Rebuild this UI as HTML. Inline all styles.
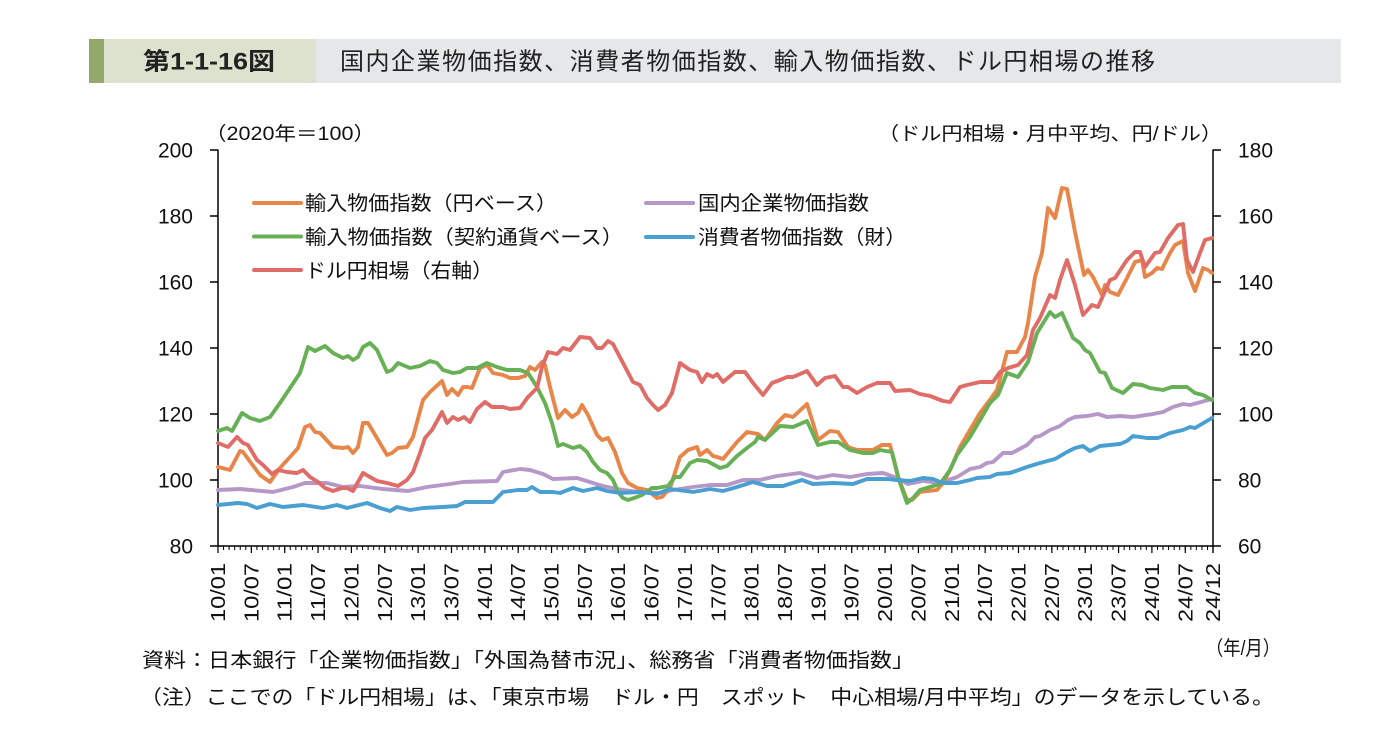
<!DOCTYPE html>
<html><head><meta charset="utf-8"><style>
html,body{margin:0;padding:0;background:#fff;}
svg{display:block;}
.jp{font-family:"Liberation Sans","Noto Sans CJK JP",sans-serif;}
.num{font-family:"Liberation Sans",sans-serif;font-size:21px;fill:#111;}
.xl{font-family:"Liberation Sans",sans-serif;font-size:20px;fill:#111;}
.s{fill:none;stroke-width:3.9;stroke-linejoin:round;stroke-linecap:round;}
</style></head><body>
<svg width="1390" height="748" viewBox="0 0 1390 748" xmlns="http://www.w3.org/2000/svg">
<rect x="0" y="0" width="1390" height="748" fill="#fff"/>
<!-- title bar -->
<rect x="89" y="39" width="15" height="44" fill="#93a86b"/>
<rect x="104" y="39" width="212" height="44" fill="#dce2cd"/>
<rect x="316" y="39" width="1025" height="44" fill="#e6e7e9"/>
<text class="jp" x="143" y="69.5" font-size="24" font-weight="bold" fill="#222" textLength="132" lengthAdjust="spacingAndGlyphs">第1-1-16図</text>
<text class="jp" x="340" y="69.5" font-size="24" fill="#222" textLength="815" lengthAdjust="spacing">国内企業物価指数、消費者物価指数、輸入物価指数、ドル円相場の推移</text>

<!-- axis headers -->
<text class="jp" x="205" y="140" font-size="19" fill="#111" textLength="170" lengthAdjust="spacingAndGlyphs">（2020年＝100）</text>
<text class="jp" x="878" y="140" font-size="19" fill="#111" textLength="344" lengthAdjust="spacingAndGlyphs">（ドル円相場・月中平均、円/ドル）</text>

<!-- left labels -->
<g class="num" text-anchor="end">
<text x="193" y="157.5">200</text>
<text x="193" y="223.5">180</text>
<text x="193" y="289.5">160</text>
<text x="193" y="355.5">140</text>
<text x="193" y="421.5">120</text>
<text x="193" y="487.5">100</text>
<text x="193" y="553.5">80</text>
</g>
<g class="num">
<text x="1238" y="157.5">180</text>
<text x="1238" y="223.5">160</text>
<text x="1238" y="289.5">140</text>
<text x="1238" y="355.5">120</text>
<text x="1238" y="421.5">100</text>
<text x="1238" y="487.5">80</text>
<text x="1238" y="553.5">60</text>
</g>

<!-- axes -->
<g stroke="#000" stroke-width="1.5">
<line x1="218" y1="149.5" x2="218" y2="546.5"/>
<line x1="1213" y1="149.5" x2="1213" y2="546.5"/>
<line x1="210" y1="546" x2="1221" y2="546"/>
<line x1="210" y1="150" x2="218" y2="150"/>
<line x1="210" y1="216" x2="218" y2="216"/>
<line x1="210" y1="282" x2="218" y2="282"/>
<line x1="210" y1="348" x2="218" y2="348"/>
<line x1="210" y1="414" x2="218" y2="414"/>
<line x1="210" y1="480" x2="218" y2="480"/>
<line x1="1213" y1="150" x2="1221" y2="150"/>
<line x1="1213" y1="216" x2="1221" y2="216"/>
<line x1="1213" y1="282" x2="1221" y2="282"/>
<line x1="1213" y1="348" x2="1221" y2="348"/>
<line x1="1213" y1="414" x2="1221" y2="414"/>
<line x1="1213" y1="480" x2="1221" y2="480"/>
</g>
<line x1="217.5" y1="548" x2="1214" y2="548" stroke="#000" stroke-width="4" stroke-dasharray="1 4.559"/>
<line x1="217.4" y1="549.5" x2="1214" y2="549.5" stroke="#000" stroke-width="7" stroke-dasharray="1.2 32.154"/>
<line x1="1213" y1="546" x2="1213" y2="553" stroke="#000" stroke-width="1.4"/>

<!-- x labels -->
<g class="xl" text-anchor="end">
<text transform="translate(225,563) rotate(-90)" textLength="59" lengthAdjust="spacingAndGlyphs">10/01</text>
<text transform="translate(258.4,563) rotate(-90)" textLength="59" lengthAdjust="spacingAndGlyphs">10/07</text>
<text transform="translate(291.7,563) rotate(-90)" textLength="59" lengthAdjust="spacingAndGlyphs">11/01</text>
<text transform="translate(325.1,563) rotate(-90)" textLength="59" lengthAdjust="spacingAndGlyphs">11/07</text>
<text transform="translate(358.4,563) rotate(-90)" textLength="59" lengthAdjust="spacingAndGlyphs">12/01</text>
<text transform="translate(391.8,563) rotate(-90)" textLength="59" lengthAdjust="spacingAndGlyphs">12/07</text>
<text transform="translate(425.1,563) rotate(-90)" textLength="59" lengthAdjust="spacingAndGlyphs">13/01</text>
<text transform="translate(458.5,563) rotate(-90)" textLength="59" lengthAdjust="spacingAndGlyphs">13/07</text>
<text transform="translate(491.8,563) rotate(-90)" textLength="59" lengthAdjust="spacingAndGlyphs">14/01</text>
<text transform="translate(525.2,563) rotate(-90)" textLength="59" lengthAdjust="spacingAndGlyphs">14/07</text>
<text transform="translate(558.5,563) rotate(-90)" textLength="59" lengthAdjust="spacingAndGlyphs">15/01</text>
<text transform="translate(591.9,563) rotate(-90)" textLength="59" lengthAdjust="spacingAndGlyphs">15/07</text>
<text transform="translate(625.2,563) rotate(-90)" textLength="59" lengthAdjust="spacingAndGlyphs">16/01</text>
<text transform="translate(658.6,563) rotate(-90)" textLength="59" lengthAdjust="spacingAndGlyphs">16/07</text>
<text transform="translate(692,563) rotate(-90)" textLength="59" lengthAdjust="spacingAndGlyphs">17/01</text>
<text transform="translate(725.3,563) rotate(-90)" textLength="59" lengthAdjust="spacingAndGlyphs">17/07</text>
<text transform="translate(758.7,563) rotate(-90)" textLength="59" lengthAdjust="spacingAndGlyphs">18/01</text>
<text transform="translate(792,563) rotate(-90)" textLength="59" lengthAdjust="spacingAndGlyphs">18/07</text>
<text transform="translate(825.4,563) rotate(-90)" textLength="59" lengthAdjust="spacingAndGlyphs">19/01</text>
<text transform="translate(858.7,563) rotate(-90)" textLength="59" lengthAdjust="spacingAndGlyphs">19/07</text>
<text transform="translate(892.1,563) rotate(-90)" textLength="59" lengthAdjust="spacingAndGlyphs">20/01</text>
<text transform="translate(925.4,563) rotate(-90)" textLength="59" lengthAdjust="spacingAndGlyphs">20/07</text>
<text transform="translate(958.8,563) rotate(-90)" textLength="59" lengthAdjust="spacingAndGlyphs">21/01</text>
<text transform="translate(992.1,563) rotate(-90)" textLength="59" lengthAdjust="spacingAndGlyphs">21/07</text>
<text transform="translate(1025.5,563) rotate(-90)" textLength="59" lengthAdjust="spacingAndGlyphs">22/01</text>
<text transform="translate(1058.9,563) rotate(-90)" textLength="59" lengthAdjust="spacingAndGlyphs">22/07</text>
<text transform="translate(1092.2,563) rotate(-90)" textLength="59" lengthAdjust="spacingAndGlyphs">23/01</text>
<text transform="translate(1125.6,563) rotate(-90)" textLength="59" lengthAdjust="spacingAndGlyphs">23/07</text>
<text transform="translate(1158.9,563) rotate(-90)" textLength="59" lengthAdjust="spacingAndGlyphs">24/01</text>
<text transform="translate(1192.3,563) rotate(-90)" textLength="59" lengthAdjust="spacingAndGlyphs">24/07</text>
<text transform="translate(1220,563) rotate(-90)" textLength="59" lengthAdjust="spacingAndGlyphs">24/12</text>
</g>

<!-- series -->
<polyline class="s" stroke="#b598c8" points="218,490 240,489 273,492 293,487 305,483 327,483 343,487 360,486 383,489 408,491 427,487 450,484 463,482 497,481 503,472 520,469 530,470 543,474 553,479 577,478 593,483 603,486 617,489 637,492 660,493 673,490 693,487 710,485 727,485 743,480 760,480 777,476 800,473 817,478 833,475 850,477 867,474 883,473 897,478 908,484 923,481 940,483 957,477 962,474 970,469 980,467 987,463 993,462 1003,453 1012,453 1027,445 1035,437 1040,436 1050,430 1060,426 1068,420 1075,417 1087,416 1098,414 1107,417 1120,416 1133,417 1153,414 1163,412 1173,407 1183,404 1190,405 1212,399"/>
<polyline class="s" stroke="#e8864a" points="218,467 230,470 240,451 243,452 260,475 270,482 280,468 290,457 298,448 305,427 310,425 315,432 320,433 333,447 343,448 348,447 353,453 358,447 363,423 368,423 387,455 392,453 398,448 407,447 413,437 423,400 430,392 442,381 447,395 452,389 458,395 463,387 467,387 472,388 480,368 487,365 493,373 503,375 510,378 518,378 525,376 530,367 535,370 542,362 545,365 550,387 558,418 565,410 572,417 578,413 582,405 588,415 597,435 602,440 608,438 615,452 622,473 628,483 637,488 647,490 657,498 662,497 670,488 680,457 688,450 697,447 700,455 707,450 713,456 717,457 723,459 737,442 747,432 758,434 765,440 777,423 785,415 793,417 807,404 813,423 818,440 830,431 838,432 848,447 857,450 873,450 882,445 890,445 898,477 907,500 912,500 920,492 937,490 943,483 950,470 960,447 970,430 980,413 992,397 997,390 1007,352 1017,352 1025,337 1028,323 1035,277 1042,253 1048,208 1055,218 1062,188 1067,189 1075,232 1084,275 1088,270 1093,277 1102,295 1105,285 1110,292 1118,295 1127,278 1135,262 1142,260 1145,277 1152,273 1157,268 1162,269 1170,253 1175,245 1183,241 1188,273 1195,291 1203,268 1208,270 1212,273"/>
<polyline class="s" stroke="#68b055" points="218,431 227,428 232,431 242,413 250,418 260,421 270,417 280,403 290,388 300,373 308,347 315,351 325,346 333,353 343,358 348,356 353,360 358,357 363,347 370,343 377,350 387,372 392,370 398,363 410,368 420,366 430,361 437,363 443,370 453,373 460,372 467,368 477,368 487,363 497,367 507,370 520,370 528,373 537,387 545,403 552,423 558,446 563,444 573,448 580,446 587,452 593,462 600,470 607,473 613,480 618,492 623,498 628,500 637,497 642,495 652,488 657,488 668,486 675,477 680,477 690,463 697,460 707,461 720,468 727,466 737,456 747,448 755,442 758,437 765,440 780,426 793,427 807,421 818,445 830,442 838,442 850,450 863,453 873,453 880,450 892,452 899,480 907,503 913,498 920,490 930,487 940,484 950,470 957,455 970,437 980,420 990,403 998,395 1007,373 1018,377 1028,362 1037,333 1050,312 1055,317 1062,313 1073,338 1080,343 1085,350 1090,353 1100,372 1105,373 1112,388 1123,393 1133,384 1142,385 1150,388 1163,390 1172,387 1187,387 1195,393 1203,395 1212,400"/>
<polyline class="s" stroke="#4a9fd2" points="218,505 238,503 247,504 257,508 270,504 283,507 303,505 323,508 337,505 347,508 367,503 380,508 390,511 397,507 410,510 423,508 443,507 457,506 465,502 473,502 493,502 503,492 518,490 527,490 532,487 540,492 553,492 560,493 573,488 583,491 597,488 607,491 620,493 640,492 657,494 670,489 693,492 710,489 723,491 737,487 753,482 767,486 783,486 802,480 813,484 833,483 853,484 867,479 887,479 897,480 910,481 923,478 933,479 943,483 957,483 970,480 977,478 990,477 997,474 1010,473 1027,467 1040,463 1055,459 1067,452 1075,448 1083,446 1090,451 1100,446 1120,444 1127,441 1133,436 1147,438 1158,438 1170,433 1183,430 1190,427 1195,428 1212,418"/>
<polyline class="s" stroke="#e06c67" points="218,443 228,447 237,437 243,443 248,445 257,460 263,465 272,474 278,470 287,472 297,473 303,470 310,477 318,482 325,488 333,491 342,488 347,488 353,491 363,473 377,481 387,483 398,486 407,480 413,472 420,453 425,438 432,430 442,412 447,423 453,417 458,420 464,417 470,422 477,409 485,402 492,407 503,407 510,409 520,408 528,397 537,388 542,367 548,352 557,354 563,348 570,350 580,337 590,338 597,348 602,348 608,341 613,344 623,363 633,382 640,385 647,398 653,405 658,410 665,405 672,393 680,363 690,370 697,372 702,382 707,374 713,377 717,374 723,382 735,372 745,372 753,383 763,395 772,383 780,380 787,377 793,377 807,371 817,385 825,378 835,376 843,387 848,387 857,393 867,387 877,383 890,383 895,391 910,390 920,394 930,396 943,401 950,402 960,387 967,385 980,382 993,382 1000,372 1008,368 1018,365 1027,355 1033,330 1040,318 1050,295 1055,298 1060,280 1067,260 1075,285 1083,315 1092,305 1098,307 1110,280 1115,278 1127,260 1135,252 1140,252 1145,267 1155,253 1160,252 1168,238 1178,225 1183,224 1187,260 1193,272 1200,253 1205,240 1212,238"/>

<!-- legend -->
<g stroke-width="4" stroke-linecap="round">
<line x1="254" y1="203" x2="301" y2="203" stroke="#e8864a"/>
<line x1="254" y1="236.5" x2="301" y2="236.5" stroke="#68b055"/>
<line x1="254" y1="270" x2="301" y2="270" stroke="#e06c67"/>
<line x1="646" y1="203" x2="693" y2="203" stroke="#b598c8"/>
<line x1="646" y1="237" x2="693" y2="237" stroke="#4a9fd2"/>
</g>
<g class="jp" font-size="20" fill="#111">
<text x="305" y="210" textLength="252" lengthAdjust="spacingAndGlyphs">輸入物価指数（円ベース）</text>
<text x="305" y="244" textLength="318" lengthAdjust="spacingAndGlyphs">輸入物価指数（契約通貨ベース）</text>
<text x="305" y="277.5" textLength="188" lengthAdjust="spacingAndGlyphs">ドル円相場（右軸）</text>
<text x="698" y="210" textLength="171" lengthAdjust="spacingAndGlyphs">国内企業物価指数</text>
<text x="698" y="244" textLength="208" lengthAdjust="spacingAndGlyphs">消費者物価指数（財）</text>
</g>

<!-- footnotes -->
<g class="jp" font-size="20" fill="#111">
<text x="1206" y="655" textLength="74" lengthAdjust="spacingAndGlyphs">（年/月）</text>
<text x="142" y="667" textLength="772" lengthAdjust="spacingAndGlyphs">資料：日本銀行「企業物価指数」「外国為替市況」、総務省「消費者物価指数」</text>
<text x="140" y="704" textLength="1134" lengthAdjust="spacingAndGlyphs">（注）ここでの「ドル円相場」は、「東京市場　ドル・円　スポット　中心相場/月中平均」のデータを示している。</text>
</g>
</svg>
</body></html>
